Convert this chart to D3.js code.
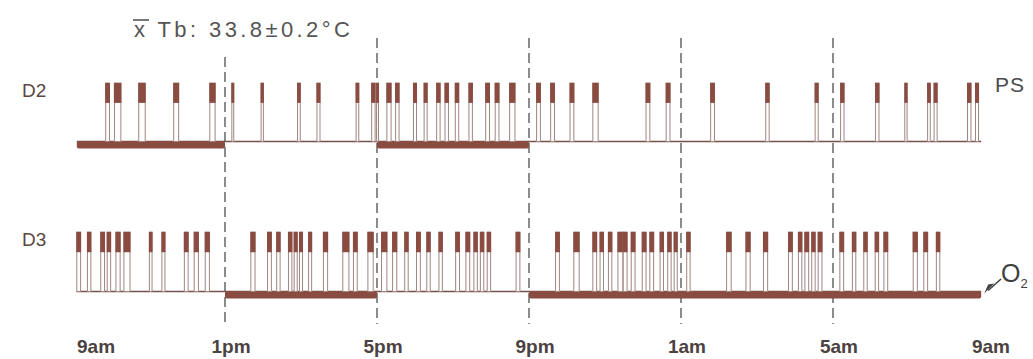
<!DOCTYPE html>
<html><head><meta charset="utf-8">
<script src="https://cdn.jsdelivr.net/npm/d3@7"></script>
<style>html,body{margin:0;padding:0;background:#fff;}svg{display:block;}</style>
</head><body>
<script>
// ---- data (hours after 9am) ----
const hourTicks = [0, 4, 8, 12, 16, 20, 24];
const tickLabels = ["9am", "1pm", "5pm", "9pm", "1am", "5am", "9am"];
const dividerHours = [4, 8, 12, 16, 20];
const recording = [0.1, 23.9];
const d2Thick = [[0.1, 4], [8, 12]];
const d3Thick = [[4, 8], [12, 23.9]];
const d2PS = [[0.86,0.96],[1.09,1.26],[1.73,1.90],[2.65,2.78],[3.60,3.74],[4.18,4.23],[4.95,5.01],[5.91,5.98],[6.42,6.50],[7.45,7.52],[7.86,7.95],[7.99,8.04],[8.26,8.37],[8.49,8.58],[8.96,9.04],[9.24,9.32],[9.57,9.66],[9.79,9.88],[10.06,10.15],[10.42,10.51],[10.86,10.96],[11.11,11.21],[11.49,11.63],[12.20,12.30],[12.57,12.67],[13.08,13.18],[13.68,13.82],[15.08,15.18],[15.61,15.71],[16.78,16.88],[18.23,18.32],[19.53,19.61],[20.20,20.29],[21.12,21.21],[21.89,21.95],[22.49,22.56],[22.66,22.74],[23.54,23.63],[23.75,23.83]];
const d3PS = [[0.10,0.20],[0.38,0.47],[0.73,0.83],[0.90,0.99],[1.13,1.24],[1.34,1.50],[2.01,2.08],[2.34,2.42],[2.93,3.03],[3.19,3.30],[3.48,3.59],[4.68,4.79],[5.12,5.22],[5.36,5.45],[5.67,5.76],[5.82,5.90],[5.96,6.04],[6.20,6.28],[6.59,6.70],[7.10,7.26],[7.38,7.48],[7.76,7.90],[8.12,8.26],[8.41,8.52],[8.73,8.82],[9.04,9.14],[9.31,9.40],[9.63,9.72],[10.07,10.17],[10.34,10.44],[10.55,10.64],[10.72,10.81],[10.90,10.99],[11.66,11.76],[12.70,12.80],[13.18,13.32],[13.68,13.78],[13.87,13.96],[14.09,14.18],[14.34,14.47],[14.48,14.58],[14.69,14.79],[14.98,15.08],[15.18,15.28],[15.45,15.54],[15.65,15.74],[15.82,15.90],[16.15,16.24],[17.20,17.32],[17.71,17.82],[18.17,18.28],[18.83,18.93],[19.09,19.18],[19.26,19.36],[19.44,19.53],[19.61,19.71],[20.18,20.28],[20.51,20.60],[20.81,20.90],[21.11,21.20],[21.34,21.44],[22.11,22.22],[22.39,22.49],[22.72,22.81]];
const psLevel = 1;
const darkLevel = 0.66;

// ---- drawing ----
const W = 1033, H = 359;
const brown = "#8a4b41", thinBase = "#74514b", legCol = "#a08580", textCol = "#4a4240";
const svg = d3.select("body").append("svg").attr("width", W).attr("height", H);
svg.append("rect").attr("width", W).attr("height", H).attr("fill", "#fff");

const x = d3.scaleLinear().domain([0, 24]).range([73, 985]);

const rows = [
  { name: "D2", ps: d2PS, thick: d2Thick, y: d3.scaleLinear().domain([0, 1]).range([141.5, 83]) },
  { name: "D3", ps: d3PS, thick: d3Thick, y: d3.scaleLinear().domain([0, 1]).range([291.5, 232]) }
];

// dashed dividers
svg.selectAll("line.div").data(dividerHours).join("line")
  .attr("x1", d => x(d)).attr("x2", d => x(d))
  .attr("y1", d => d === 4 ? 57 : 38).attr("y2", 324)
  .attr("stroke", "#2e2e2e").attr("stroke-width", 1.1)
  .attr("stroke-dasharray", "10,5");

rows.forEach(r => {
  const g = svg.append("g");
  const y0 = r.y(0);
  g.append("line").attr("x1", x(recording[0])).attr("x2", x(recording[1]))
    .attr("y1", y0).attr("y2", y0).attr("stroke", thinBase).attr("stroke-width", 1.6);
  g.selectAll("rect.thick").data(r.thick).join("rect")
    .attr("x", d => x(d[0])).attr("width", d => x(d[1]) - x(d[0]))
    .attr("y", y0 - 0.5).attr("height", 7.5).attr("rx", 2)
    .attr("fill", brown);
  const p = g.selectAll("g.ps").data(r.ps).join("g");
  p.append("rect")
    .attr("x", d => x(d[0])).attr("width", d => Math.max(1, x(d[1]) - x(d[0])))
    .attr("y", r.y(psLevel)).attr("height", y0 - r.y(psLevel))
    .attr("fill", "#fff").attr("stroke", legCol).attr("stroke-width", 1);
  p.append("rect")
    .attr("x", d => x(d[0]) - 0.5).attr("width", d => Math.max(2, x(d[1]) - x(d[0]) + 1))
    .attr("y", r.y(psLevel)).attr("height", r.y(darkLevel) - r.y(psLevel))
    .attr("fill", brown);
  svg.append("text").attr("x", 22).attr("y", r.y(0.76))
    .attr("font-family", "Liberation Sans, Arial, sans-serif").attr("font-size", 19)
    .attr("fill", "#5b4642").text(r.name);
});

// tick labels
svg.selectAll("text.tick").data(hourTicks).join("text")
  .attr("x", (d, i) => i === 0 ? x(d) + 4 : x(d) + 6)
  .attr("text-anchor", (d, i) => i === 0 ? "start" : "middle")
  .attr("y", 353)
  .attr("font-family", "Liberation Sans, Arial, sans-serif").attr("font-size", 19)
  .attr("font-weight", "bold").attr("fill", textCol)
  .text((d, i) => tickLabels[i]);

// PS label
svg.append("text").attr("x", 995).attr("y", 92)
  .attr("font-family", "Liberation Sans, Arial, sans-serif").attr("font-size", 21)
  .attr("fill", "#4a4a4a").attr("letter-spacing", 1).text("PS");

// O2 label with arrow
const o2 = svg.append("text").attr("x", 1001).attr("y", 282)
  .attr("font-family", "Liberation Sans, Arial, sans-serif").attr("font-size", 25)
  .attr("fill", "#3f3f3f");
o2.append("tspan").text("O");
o2.append("tspan").attr("font-size", 13).attr("dy", 6).text("2");
const ax = x(recording[1]) + 3, ay = rows[1].y(0) + 2;
svg.append("line").attr("x1", ax + 4).attr("y1", ay - 3).attr("x2", 1001).attr("y2", 279)
  .attr("stroke", "#3f3f3f").attr("stroke-width", 1.5);
svg.append("path").attr("d", `M${ax},${ay} L${ax + 10},${ay - 10} L${ax + 4},${ay - 9} Z`)
  .attr("fill", "#3f3f3f");

// title
const tt = svg.append("text").attr("x", 134).attr("y", 37)
  .attr("font-family", "Liberation Sans, Arial, sans-serif").attr("font-size", 22)
  .attr("fill", "#555").attr("letter-spacing", 3.4);
tt.text("x Tb: 33.8\u00B10.2\u00B0C");
svg.append("line").attr("x1", 133).attr("x2", 149).attr("y1", 20).attr("y2", 20)
  .attr("stroke", "#555").attr("stroke-width", 1.6);
</script>
</body></html>
